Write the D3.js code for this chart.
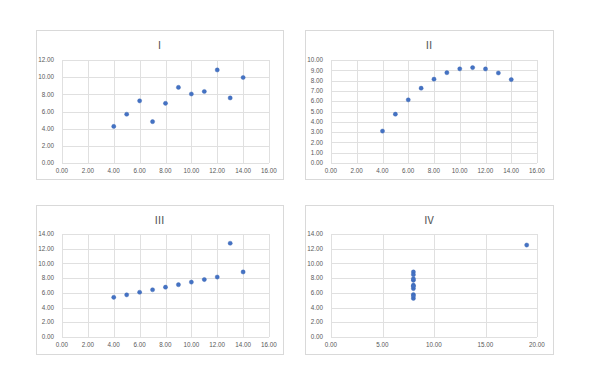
<!DOCTYPE html>
<html>
<head>
<meta charset="utf-8">
<script src="https://cdn.jsdelivr.net/npm/d3@7"></script>
<style>
  body { margin: 0; background: #fff; }
  svg { display: block; font-family: "Liberation Sans", Arial, sans-serif; }
</style>
</head>
<body>
<div id="container"></div>
<script>
"use strict";

const width = 590;
const height = 384;

// Anscombe's quartet
const titles = ["Ⅰ", "Ⅱ", "Ⅲ", "Ⅳ"];
const x123 = [10, 8, 13, 9, 11, 14, 6, 4, 12, 7, 5];
const x4 = [8, 8, 8, 8, 8, 8, 8, 19, 8, 8, 8];
const y1 = [8.04, 6.95, 7.58, 8.81, 8.33, 9.96, 7.24, 4.26, 10.84, 4.82, 5.68];
const y2 = [9.14, 8.14, 8.74, 8.77, 9.26, 8.10, 6.13, 3.10, 9.13, 7.26, 4.74];
const y3 = [7.46, 6.77, 12.74, 7.11, 7.81, 8.84, 6.08, 5.39, 8.15, 6.42, 5.73];
const y4 = [6.58, 5.76, 7.71, 8.84, 8.47, 7.04, 5.25, 12.50, 5.56, 7.91, 6.89];

// axis ticks for each panel
const xTicks = [
    d3.range(0, 17, 2), d3.range(0, 17, 2), d3.range(0, 17, 2), d3.range(0, 21, 5)
];
const yTicks = [
    d3.range(0, 13, 2), d3.range(0, 11, 1), d3.range(0, 15, 2), d3.range(0, 15, 2)
];
const xs = [x123, x123, x123, x4];
const ys = [y1, y2, y3, y4];

// panel boxes [left, top, right, bottom] and plot areas inside them
const panels = [
    {box: [36, 30, 283, 179], plot: [62, 60, 269, 163]},
    {box: [305, 30, 553, 179], plot: [331, 60, 537, 163]},
    {box: [36, 205, 283, 354], plot: [62, 234, 269, 337]},
    {box: [305, 205, 553, 354], plot: [331, 234, 537, 337]}
];

const svg = d3.select("#container").append("svg")
    .attr("width", width)
    .attr("height", height);

const fmt = d3.format(".2f");

panels.forEach((p, i) => {
    const [bx0, by0, bx1, by1] = p.box;
    const [px0, py0, px1, py1] = p.plot;
    const g = svg.append("g");

    // chart border
    g.append("rect")
        .attr("x", bx0 + 0.5).attr("y", by0 + 0.5)
        .attr("width", bx1 - bx0).attr("height", by1 - by0)
        .attr("fill", "#fff")
        .attr("stroke", "#d9d9d9")
        .attr("stroke-width", 1);

    const xt = xTicks[i], yt = yTicks[i];
    const x = d3.scaleLinear().domain([xt[0], xt[xt.length - 1]]).range([px0, px1]);
    const y = d3.scaleLinear().domain([yt[0], yt[yt.length - 1]]).range([py1, py0]);

    // gridlines
    g.append("g").selectAll("line.h")
        .data(yt).enter().append("line")
        .attr("x1", px0).attr("x2", px1)
        .attr("y1", d => Math.round(y(d)) + 0.5).attr("y2", d => Math.round(y(d)) + 0.5)
        .attr("stroke", "#e0e0e0");
    g.append("g").selectAll("line.v")
        .data(xt).enter().append("line")
        .attr("y1", py0).attr("y2", py1)
        .attr("x1", d => Math.round(x(d)) + 0.5).attr("x2", d => Math.round(x(d)) + 0.5)
        .attr("stroke", "#e0e0e0");

    // tick labels
    g.append("g").selectAll("text")
        .data(yt).enter().append("text")
        .attr("x", px0 - 8).attr("y", d => y(d))
        .attr("dy", "0.35em")
        .attr("text-anchor", "end")
        .attr("font-size", 6.3)
        .attr("fill", "#595959")
        .text(fmt);
    g.append("g").selectAll("text")
        .data(xt).enter().append("text")
        .attr("x", d => x(d)).attr("y", py1 + 8)
        .attr("dy", "0.35em")
        .attr("text-anchor", "middle")
        .attr("font-size", 6.3)
        .attr("fill", "#595959")
        .text(fmt);

    // title
    g.append("text")
        .attr("x", (bx0 + bx1) / 2).attr("y", by0 + 15)
        .attr("dy", "0.35em")
        .attr("text-anchor", "middle")
        .attr("font-size", 11)
        .attr("font-family", "'Noto Sans CJK JP', sans-serif")
        .attr("fill", "#595959")
        .text(titles[i]);

    // points
    g.append("g").selectAll("circle")
        .data(xs[i].map((v, j) => [v, ys[i][j]]))
        .enter().append("circle")
        .attr("cx", d => x(d[0]))
        .attr("cy", d => y(d[1]))
        .attr("r", 2.1)
        .attr("fill", "#4472c4")
        .attr("stroke", "#3a64b0")
        .attr("stroke-width", 0.4);
});
</script>
</body>
</html>
